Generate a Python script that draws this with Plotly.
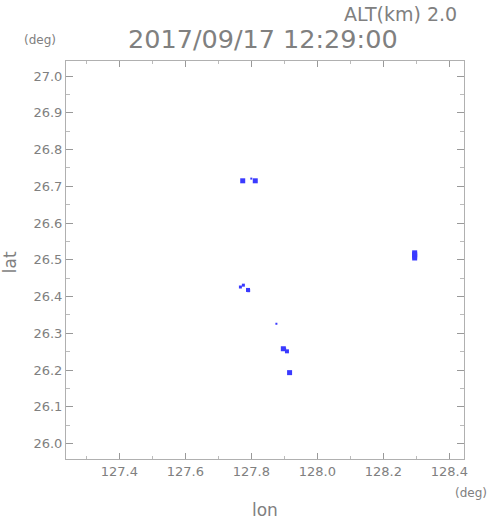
import plotly.graph_objects as go

lon = [127.774, 127.812, 127.800, 127.767, 127.776, 127.790, 127.792,
       127.876, 127.897, 127.901, 127.908, 127.916,
       128.295, 128.295, 128.295, 128.295]
lat = [26.715, 26.715, 26.721, 26.426, 26.431, 26.418, 26.416,
       26.326, 26.258, 26.257, 26.251, 26.193,
       26.505, 26.510, 26.515, 26.519]
size = [5, 5, 2, 3, 3, 4, 3,
        2, 5, 3, 4, 5,
        5, 5, 5, 5]

title_text = "2017/09/17 12:29:00"
alt_text = "ALT(km) 2.0"
x_ticks = [127.4, 127.6, 127.8, 128.0, 128.2, 128.4]
y_ticks = [26.0, 26.1, 26.2, 26.3, 26.4, 26.5, 26.6, 26.7, 26.8, 26.9, 27.0]

L, R, T, B = 66, 464, 61, 458.7
W, H = 491, 521

def px(x):
    return (x - L) / (R - L)

def py(y):
    return (B - y) / (B - T)

grey = "#808080"
fnt = "DejaVu Sans"

fig = go.Figure()
fig.add_trace(go.Scatter(
    x=lon, y=lat, mode="markers",
    marker=dict(symbol="square", size=size, color="#3a3aff", opacity=1,
                line=dict(width=0)),
    hoverinfo="skip", showlegend=False))

axis_common = dict(
    showgrid=False, zeroline=False, showline=True, linecolor="#b0b0b0", linewidth=1,
    mirror="ticks", ticks="inside", tickcolor="#999999", tickwidth=1,
    tickfont=dict(family=fnt, size=13, color=grey), tickformat=".1f",
)
fig.update_xaxes(range=[127.2385, 128.4445], tickvals=x_ticks, ticklen=6,
                 minor=dict(ticks="inside", dtick=0.1, tick0=127.3, ticklen=3,
                            tickcolor="#bbbbbb", showgrid=False),
                 **axis_common)
fig.update_yaxes(range=[25.958, 27.041], tickvals=y_ticks, ticklen=7,
                 minor=dict(ticks="inside", dtick=0.05, tick0=25.95, ticklen=4,
                            tickcolor="#bbbbbb", showgrid=False),
                 **axis_common)

ann = [
    dict(text=title_text, x=px(263), y=py(39), size=25.5),
    dict(text=alt_text, x=px(400), y=py(14), size=19),
    dict(text="(deg)", x=px(40), y=py(40), size=12),
    dict(text="(deg)", x=px(471), y=py(493), size=12),
    dict(text="lon", x=px(265), y=py(510), size=17),
]
for a in ann:
    fig.add_annotation(text=a["text"], x=a["x"], y=a["y"], xref="paper", yref="paper",
                       showarrow=False, xanchor="center", yanchor="middle",
                       font=dict(family=fnt, size=a["size"], color=grey))
fig.add_annotation(text="lat", x=px(10), y=py(262), xref="paper", yref="paper",
                   showarrow=False, textangle=-90, xanchor="center", yanchor="middle",
                   font=dict(family=fnt, size=17, color=grey))

fig.update_layout(width=W, height=H, margin=dict(l=L, r=W - R, t=T, b=H - B),
                  plot_bgcolor="white", paper_bgcolor="white")
fig.write_html("out.html", config={"displayModeBar": False},
               post_script="document.body.style.margin='0';document.body.style.overflow='hidden';")
